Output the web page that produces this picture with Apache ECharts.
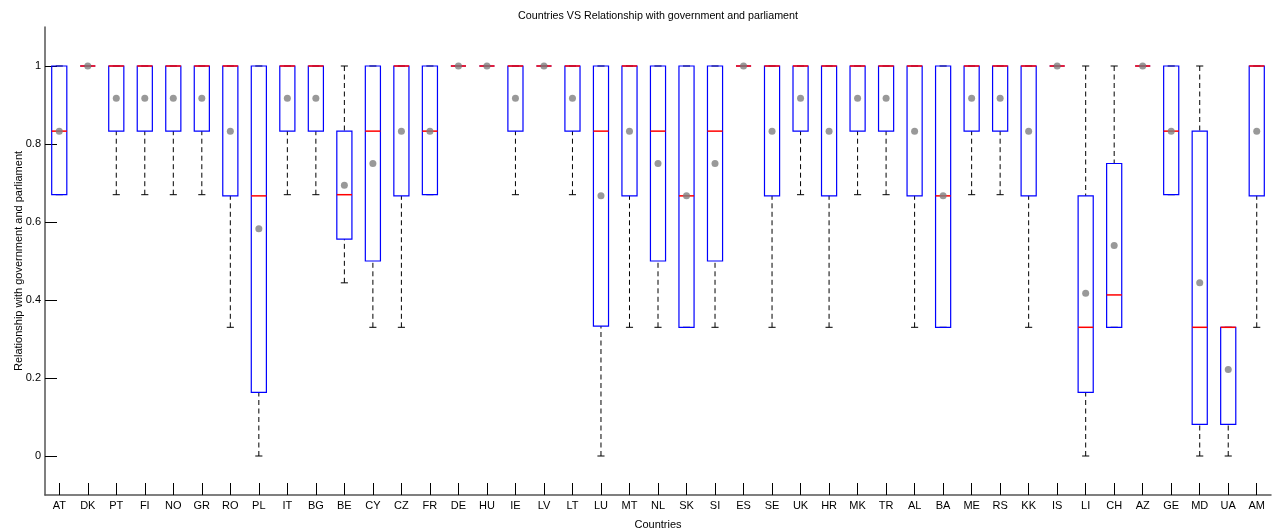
<!DOCTYPE html>
<html>
<head>
<meta charset="utf-8">
<script src="https://cdn.jsdelivr.net/npm/echarts@6/dist/echarts.min.js"></script>
<style>
  html, body { margin: 0; padding: 0; background: #fff; }
  #chart { width: 1273px; height: 531px; }
</style>
</head>
<body>
<div id="chart"></div>
<script>
// Country codes along the x axis
const countries = ['AT','DK','PT','FI','NO','GR','RO','PL','IT','BG','BE','CY','CZ','FR','DE','HU','IE','LV','LT','LU','MT','NL','SK','SI','ES','SE','UK','HR','MK','TR','AL','BA','ME','RS','KK','IS','LI','CH','AZ','GE','MD','UA','AM'];

// Box plot statistics per country
const whiskerLow = [0.67,1,0.67,0.67,0.67,0.67,0.33,0,0.67,0.67,0.444,0.33,0.33,0.67,1,1,0.67,1,0.67,0,0.33,0.33,0.33,0.33,1,0.33,0.67,0.33,0.67,0.67,0.33,0.33,0.67,0.67,0.33,1,0,0.33,1,0.67,0,0,0.33];
const quartile1  = [0.67,1,0.833,0.833,0.833,0.833,0.667,0.163,0.833,0.833,0.556,0.5,0.667,0.67,1,1,0.833,1,0.833,0.333,0.667,0.5,0.33,0.5,1,0.667,0.833,0.667,0.833,0.833,0.667,0.33,0.833,0.833,0.667,1,0.163,0.33,1,0.67,0.081,0.081,0.667];
const medians    = [0.833,1,1,1,1,1,1,0.667,1,1,0.67,0.833,1,0.833,1,1,1,1,1,0.833,1,0.833,0.667,0.833,1,1,1,1,1,1,1,0.667,1,1,1,1,0.33,0.413,1,0.833,0.33,0.33,1];
const quartile3  = [1,1,1,1,1,1,1,1,1,1,0.833,1,1,1,1,1,1,1,1,1,1,1,1,1,1,1,1,1,1,1,1,1,1,1,1,1,0.667,0.75,1,1,0.833,0.33,1];
const whiskerHigh= [1,1,1,1,1,1,1,1,1,1,1,1,1,1,1,1,1,1,1,1,1,1,1,1,1,1,1,1,1,1,1,1,1,1,1,1,1,1,1,1,1,0.33,1];
const means      = [0.833,1,0.917,0.917,0.917,0.917,0.833,0.583,0.917,0.917,0.694,0.75,0.833,0.833,1,1,0.917,1,0.917,0.667,0.833,0.75,0.667,0.75,1,0.833,0.917,0.833,0.917,0.917,0.833,0.667,0.917,0.917,0.833,1,0.417,0.54,1,0.833,0.444,0.222,0.833];

// Labelled y ticks
const yTicks = [0, 0.2, 0.4, 0.6, 0.8, 1];

const boxData = countries.map((c, i) => [i, whiskerLow[i], quartile1[i], medians[i], quartile3[i], whiskerHigh[i]]);

const FONT = '"Liberation Sans", Arial, Helvetica, sans-serif';

function renderBox(params, api) {
  const x = api.value(0);
  const lo = api.coord([x, api.value(1)]);
  const q1 = api.coord([x, api.value(2)]);
  const md = api.coord([x, api.value(3)]);
  const q3 = api.coord([x, api.value(4)]);
  const hi = api.coord([x, api.value(5)]);
  const band = api.size([1, 0])[0];
  const bw = band * 0.53;
  const cw = band * 0.25;
  const cx = lo[0];
  const dashStyle = { stroke: '#000', lineWidth: 1, lineDash: [5, 3.5], fill: null };
  const capStyle = { stroke: '#000', lineWidth: 1, fill: null };
  return {
    type: 'group',
    children: [
      { type: 'line', shape: { x1: cx, y1: lo[1], x2: cx, y2: q1[1] }, style: dashStyle },
      { type: 'line', shape: { x1: cx, y1: hi[1], x2: cx, y2: q3[1] }, style: dashStyle },
      { type: 'line', shape: { x1: cx - cw / 2, y1: lo[1], x2: cx + cw / 2, y2: lo[1] }, style: capStyle },
      { type: 'line', shape: { x1: cx - cw / 2, y1: hi[1], x2: cx + cw / 2, y2: hi[1] }, style: capStyle },
      { type: 'rect', shape: { x: cx - bw / 2, y: q3[1], width: bw, height: q1[1] - q3[1] },
        style: { stroke: '#0000ff', lineWidth: 1.2, fill: null } },
      { type: 'line', shape: { x1: cx - bw / 2, y1: md[1], x2: cx + bw / 2, y2: md[1] },
        style: { stroke: '#ff0000', lineWidth: 1.5, fill: null } }
    ]
  };
}

const chart = echarts.init(document.getElementById('chart'));
chart.setOption({
  animation: false,
  backgroundColor: '#fff',
  title: {
    text: 'Countries VS Relationship with government and parliament',
    left: 653,
    top: 6,
    textAlign: 'center',
    textStyle: { fontFamily: FONT, fontSize: 10.7, fontWeight: 'normal', color: '#000' }
  },
  grid: { left: 45, right: 2, top: 27, bottom: 36, containLabel: false, outerBoundsMode: 'none' },
  xAxis: {
    type: 'category',
    data: countries,
    boundaryGap: true,
    name: 'Countries',
    nameLocation: 'middle',
    nameGap: 24,
    nameMoveOverlap: false,
    nameTextStyle: { fontFamily: FONT, fontSize: 11, color: '#000' },
    axisLine: { show: true, onZero: false, lineStyle: { color: '#555', width: 1.5 } },
    axisTick: { show: true, inside: true, length: 12, alignWithLabel: true, lineStyle: { color: '#000', width: 1 } },
    axisLabel: { fontFamily: FONT, fontSize: 11, color: '#000', margin: 5, interval: 0 },
    splitLine: { show: false }
  },
  yAxis: {
    type: 'value',
    min: -0.1,
    max: 1.1,
    name: 'Relationship with government and parliament',
    nameLocation: 'middle',
    nameGap: 21,
    nameMoveOverlap: false,
    nameTextStyle: { fontFamily: FONT, fontSize: 11, color: '#000' },
    axisLine: { show: true, onZero: false, lineStyle: { color: '#555', width: 1.5 } },
    axisTick: { show: true, inside: true, length: 12, customValues: yTicks, lineStyle: { color: '#000', width: 1 } },
    axisLabel: { fontFamily: FONT, fontSize: 11, color: '#000', margin: 4, customValues: yTicks },
    splitLine: { show: false }
  },
  series: [
    {
      type: 'custom',
      renderItem: renderBox,
      data: boxData,
      encode: { x: 0, y: [1, 2, 3, 4, 5] },
      z: 2
    },
    {
      type: 'scatter',
      data: means,
      symbol: 'circle',
      symbolSize: 7,
      itemStyle: { color: '#808080' },
      z: 3
    }
  ]
});
</script>
</body>
</html>
